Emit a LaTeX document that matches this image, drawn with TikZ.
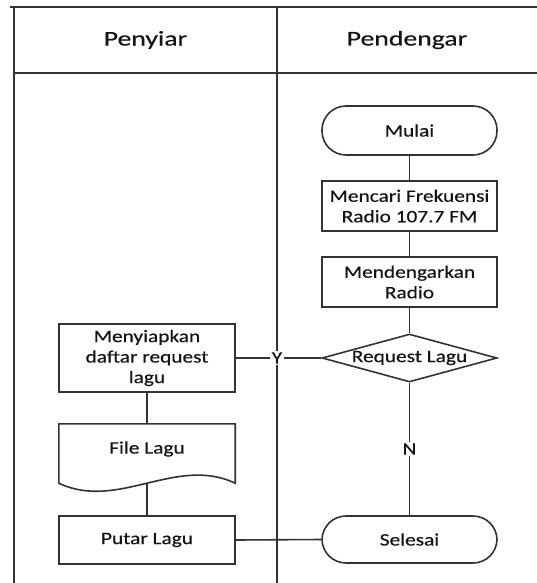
\documentclass[tikz,border=0pt]{standalone}
\usepackage{fontspec}
\setmainfont{Carlito}[FakeStretch=1.22,FakeBold=0.35]
\newfontfamily\titlefont{Carlito}[FakeStretch=1.32,FakeBold=0.35]
\usetikzlibrary{shapes.geometric,calc}
\begin{document}
\begin{tikzpicture}[x=1pt,y=-1pt,
  ln/.style={line width=1.6pt, draw=black!80},
  txt/.style={inner sep=0pt, align=center, text=black!92, font=\fontsize{17.5}{20.5}\selectfont},
  proc/.style={txt, ln, rectangle, minimum width=175pt, minimum height=50pt},
  term/.style={proc, rounded corners=24pt},
  dec/.style={ln, diamond, inner sep=0pt, minimum width=175pt, minimum height=48pt},
  lbl/.style={txt, fill=white, inner sep=1.5pt},
  title/.style={inner sep=0pt, text=black!92, font=\titlefont\fontsize{21}{24}\selectfont}
]
\useasboundingbox (0,0) rectangle (537,583);
% swimlanes
\draw[ln] (10,7) -- (537,7);
\draw[ln] (14,7) -- (14,583);
\draw[ln] (277,7) -- (277,583);
\draw[ln] (14,73) -- (537,73);
\node[title] (h1) at (145.5,40) {Penyiar};
\node[title] (h2) at (407,40) {Pendengar};

% Pendengar lane
\node[term, minimum height=49pt] (mulai) at (409.5,130.5) {Mulai};
\node[proc] (cari) at (409.5,206) {Mencari Frekuensi\\Radio 107.7 FM};
\node[proc] (dengar) at (409.5,282) {Mendengarkan\\Radio};
\node[dec] (req) at (409.5,358) {};
\node[txt] (reqtxt) at (409.5,358) {Request Lagu};
\node[term, minimum height=47pt] (selesai) at (409.5,539.5) {Selesai};

% Penyiar lane
\node[proc, minimum width=176pt, minimum height=68pt] (prep) at (147,358) {Menyiapkan\\daftar request\\lagu};
\node[inner sep=0pt, minimum width=176pt, minimum height=59pt] (file) at (147,453.5) {};
\draw[ln] (file.south west) -- (file.north west) -- (file.north east) -- (file.south east)
  .. controls ($(file.south east)+(-59,-28)$) and ($(file.south west)+(59,28)$) .. (file.south west) -- cycle;
\node[txt] (filetxt) at (147,449) {File Lagu};
\node[proc, minimum width=176pt, minimum height=48pt] (putar) at (147,540) {Putar Lagu};

% connectors
\draw[ln] (mulai) -- (cari);
\draw[ln] (cari) -- (dengar);
\draw[ln] (dengar) -- (req);
\draw[ln] (req.west) -- (prep.east);
\draw[ln] (req.south) -- (selesai.north);
\draw[ln] (prep) -- (file.north);
\draw[ln] (file.south) -- (putar.north);
\draw[ln] (putar.east) -- (selesai.west);
\node[lbl] (y) at (277,358) {Y};
\node[lbl] (n) at (409.5,449) {N};
\end{tikzpicture}
\end{document}
